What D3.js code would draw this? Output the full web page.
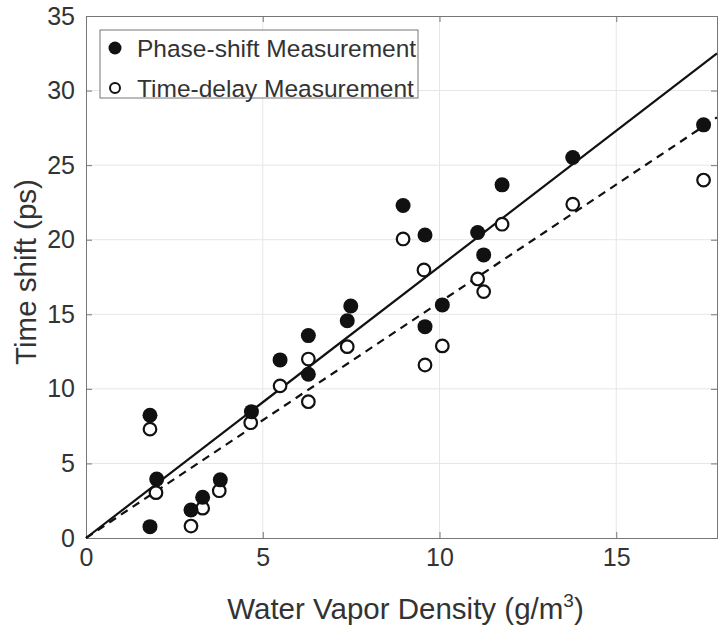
<!DOCTYPE html>
<html><head><meta charset="utf-8">
<script src="https://cdn.jsdelivr.net/npm/d3@7"></script>
<style>body{margin:0;background:#fff}svg{display:block}</style>
</head><body>
<svg id="c" width="719" height="631"></svg>
<script>
const phaseX = [1.81,2.0,1.81,2.97,3.3,3.8,4.68,5.49,6.29,6.29,7.49,7.39,8.97,9.59,10.08,9.59,11.08,11.25,11.77,13.77,17.47];
const phaseY = [8.23,3.95,0.76,1.88,2.73,3.9,8.47,11.94,13.57,10.98,15.56,14.57,22.29,20.32,15.63,14.17,20.48,18.98,23.68,25.51,27.7];
const delayX = [1.81,1.98,2.97,3.3,3.77,4.66,5.49,6.29,6.29,7.39,8.97,9.56,10.08,9.59,11.08,11.25,11.77,13.77,17.47];
const delayY = [7.3,3.04,0.8,2.0,3.17,7.73,10.2,12.0,9.14,12.83,20.05,17.97,12.88,11.6,17.37,16.52,21.04,22.38,24.0];
const fitSlopes = [1.82, 1.58];
const xTicks = [0,5,10,15];
const yTicks = [0,5,10,15,20,25,30,35];
const legendLabels = ["Phase-shift Measurement","Time-delay Measurement"];

const L=86,R=717,T=16,B=538;
const x=d3.scaleLinear().domain([0,17.85]).range([L,R]);
const y=d3.scaleLinear().domain([0,35]).range([B,T]);
const svg=d3.select("#c");
const font="'Liberation Sans', Arial, Helvetica, sans-serif";
const tc="#333";

// grid
svg.append("g").selectAll("line").data(xTicks.slice(1)).join("line")
 .attr("x1",d=>x(d)).attr("x2",d=>x(d)).attr("y1",T).attr("y2",B)
 .attr("stroke","#e6e6e6").attr("stroke-width",1);
svg.append("g").selectAll("line").data(yTicks.slice(1,-1)).join("line")
 .attr("y1",d=>y(d)).attr("y2",d=>y(d)).attr("x1",L).attr("x2",R)
 .attr("stroke","#e6e6e6").attr("stroke-width",1);

// axes
const ax=svg.append("g").attr("transform",`translate(0,${B})`)
 .call(d3.axisBottom(x).tickValues(xTicks).tickSize(-6).tickPadding(10).tickFormat(d3.format("d")));
const ay=svg.append("g").attr("transform",`translate(${L},0)`)
 .call(d3.axisLeft(y).tickValues(yTicks).tickSize(-6).tickPadding(11).tickFormat(d3.format("d")));
const axT=svg.append("g").attr("transform",`translate(0,${T})`)
 .call(d3.axisTop(x).tickValues(xTicks).tickSize(-6).tickFormat(""));
const ayR=svg.append("g").attr("transform",`translate(${R},0)`)
 .call(d3.axisRight(y).tickValues(yTicks).tickSize(-6).tickFormat(""));
[ax,ay,axT,ayR].forEach(g=>{
 g.select(".domain").attr("stroke","#777");
 g.selectAll(".tick line").attr("stroke","#777");
 g.selectAll("text").attr("font-family",font).attr("font-size",25).attr("fill",tc);
});

// fit lines
const lineG=svg.append("g");
fitSlopes.forEach((s,i)=>{
 lineG.append("line").attr("x1",x(0)).attr("y1",y(0)).attr("x2",x(17.85)).attr("y2",y(s*17.85))
  .attr("stroke","#111").attr("stroke-width",2.2)
  .attr("stroke-dasharray",i===1?"8,6":null);
});

// points
svg.append("g").selectAll("circle").data(delayX.map((d,i)=>[d,delayY[i]])).join("circle")
 .attr("cx",d=>x(d[0])).attr("cy",d=>y(d[1])).attr("r",6.3)
 .attr("fill","#fff").attr("stroke","#111").attr("stroke-width",2.2);
svg.append("g").selectAll("circle").data(phaseX.map((d,i)=>[d,phaseY[i]])).join("circle")
 .attr("cx",d=>x(d[0])).attr("cy",d=>y(d[1])).attr("r",7.5).attr("fill","#111");

// legend
const lg=svg.append("g");
lg.append("rect").attr("x",100).attr("y",30).attr("width",318).attr("height",68)
 .attr("fill","#fff").attr("stroke","#777").attr("stroke-width",1);
legendLabels.forEach((t,i)=>{
 const cy=48+i*40;
 if(i===0) lg.append("circle").attr("cx",115).attr("cy",cy).attr("r",6.5).attr("fill","#111");
 else lg.append("circle").attr("cx",115).attr("cy",cy).attr("r",5).attr("fill","#fff").attr("stroke","#111").attr("stroke-width",2);
 lg.append("text").attr("x",137).attr("y",cy+8.5).attr("font-family",font).attr("font-size",24.5)
  .attr("fill",tc).text(t);
});

// axis labels
const xl=svg.append("text").attr("x",(L+R)/2+4).attr("y",619).attr("text-anchor","middle")
 .attr("font-family",font).attr("font-size",29.5).attr("fill",tc);
xl.append("tspan").text("Water Vapor Density (g/m");
xl.append("tspan").attr("dy",-12).attr("font-size",19).text("3");
xl.append("tspan").attr("dy",12).text(")");
svg.append("text").attr("transform",`translate(36,${(T+B)/2-5}) rotate(-90)`).attr("text-anchor","middle")
 .attr("font-family",font).attr("font-size",29.5).attr("fill",tc).text("Time shift (ps)");
</script>
</body></html>
